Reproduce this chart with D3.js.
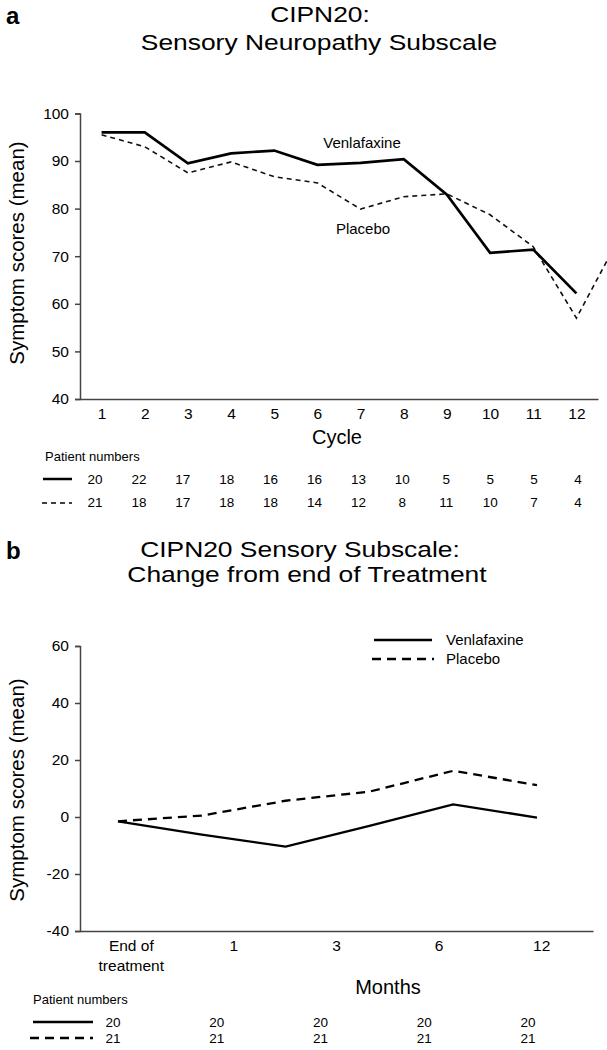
<!DOCTYPE html>
<html><head><meta charset="utf-8">
<script src="https://cdn.jsdelivr.net/npm/d3@7"></script>
<style>
body{margin:0;background:#fff}
svg{display:block}
text{font-family:"Liberation Sans",Arial,Helvetica,sans-serif;fill:#000}
</style>
</head><body>
<svg id="chart" width="607" height="1050"></svg>
<script>
// ---------- Data: panel a ----------
const cycles = [1,2,3,4,5,6,7,8,9,10,11,12];
const venlafaxineA = [96,96,89.5,91.6,92.2,89.2,89.6,90.4,82.9,70.7,71.4,62.2];
// last value lies beyond cycle 12 (line runs off the right edge in the original)
const placeboA = [95.5,93,87.5,89.8,86.7,85.4,79.9,82.5,83.1,78.7,72,57,74];
const patientsVenA = [20,22,17,18,16,16,13,10,5,5,5,4];
const patientsPlaA = [21,18,17,18,18,14,12,8,11,10,7,4];
const yTicksA = [40,50,60,70,80,90,100];

// ---------- Data: panel b ----------
const monthLabels = ["End of treatment","1","3","6","12"];
const measurePoints = [0,1,2,3,4,5];
const venlafaxineB = [-1.5,-6.2,-10.4,-3.1,4.4,-0.2];
const placeboB = [-1.5,0.5,5.7,8.9,16.2,11.2];
const patientsVenB = [20,20,20,20,20];
const patientsPlaB = [21,21,21,21,21];
const yTicksB = [-40,-20,0,20,40,60];

const svg = d3.select("#chart");
const axisColor = "#444";

function styleAxis(g){
  g.selectAll(".domain").attr("stroke",axisColor).attr("stroke-width",1.5);
  g.selectAll(".tick line").attr("stroke",axisColor).attr("stroke-width",1.5);
  g.selectAll(".tick text").attr("font-family","Liberation Sans, Arial, sans-serif").attr("fill","#000");
}
// titles in the original are set in a horizontally widened face
function title(cx, y, str){
  svg.append("text").attr("transform",`translate(${cx},${y}) scale(1.2,1)`)
    .attr("text-anchor","middle").attr("font-size",22).text(str);
}
const plain = d => String(d);

// ================= PANEL A =================
svg.append("text").attr("x",6).attr("y",24).attr("font-size",24).attr("font-weight","bold").text("a");
title(320, 22, "CIPN20:");
title(319, 50, "Sensory Neuropathy Subscale");

const xA = d3.scaleLinear().domain([0.5,12.5]).range([80,598]);
const yA = d3.scaleLinear().domain([40,100]).range([399,113.4]);

const gyA = svg.append("g").attr("transform","translate(80,0)")
  .call(d3.axisLeft(yA).tickValues(yTicksA).tickFormat(plain).tickSize(5).tickPadding(6));
styleAxis(gyA);
gyA.selectAll(".tick text").attr("font-size",15.5);

const gxA = svg.append("g").attr("transform","translate(0,399)")
  .call(d3.axisBottom(xA).tickValues(cycles).tickFormat(plain).tickSize(0).tickPadding(9).tickSizeOuter(0));
styleAxis(gxA);
gxA.selectAll(".tick text").attr("font-size",15.5);

svg.append("text").attr("x",337).attr("y",444).attr("text-anchor","middle").attr("font-size",20).text("Cycle");
svg.append("text").attr("transform","translate(24,253) rotate(-90)").attr("text-anchor","middle").attr("font-size",20.5).text("Symptom scores (mean)");

const lineA = d3.line().x((d,i)=>xA(i+1)).y(d=>yA(d));
svg.append("path").datum(placeboA).attr("d",lineA).attr("fill","none")
  .attr("stroke","#111").attr("stroke-width",1.6).attr("stroke-dasharray","5,4");
svg.append("path").datum(venlafaxineA).attr("d",lineA).attr("fill","none")
  .attr("stroke","#000").attr("stroke-width",2.7).attr("stroke-linejoin","miter");

svg.append("text").attr("x",362).attr("y",148).attr("text-anchor","middle").attr("font-size",15).text("Venlafaxine");
svg.append("text").attr("x",363).attr("y",234).attr("text-anchor","middle").attr("font-size",15).text("Placebo");

// patient numbers table a
const tA = d3.scalePoint().domain(cycles).range([95,578]);
svg.append("text").attr("x",45).attr("y",461).attr("font-size",13).text("Patient numbers");
svg.append("line").attr("x1",43).attr("x2",72).attr("y1",479).attr("y2",479).attr("stroke","#000").attr("stroke-width",2.5);
svg.append("line").attr("x1",42).attr("x2",72).attr("y1",503).attr("y2",503).attr("stroke","#000").attr("stroke-width",1.6).attr("stroke-dasharray","5,4");
svg.append("g").selectAll("text").data(patientsVenA).join("text")
  .attr("x",(d,i)=>tA(cycles[i])).attr("y",484).attr("text-anchor","middle").attr("font-size",13.5).text(d=>d);
svg.append("g").selectAll("text").data(patientsPlaA).join("text")
  .attr("x",(d,i)=>tA(cycles[i])).attr("y",507).attr("text-anchor","middle").attr("font-size",13.5).text(d=>d);

// ================= PANEL B =================
svg.append("text").attr("x",6).attr("y",559).attr("font-size",24).attr("font-weight","bold").text("b");
title(300, 557, "CIPN20 Sensory Subscale:");
title(307, 582, "Change from end of Treatment");

const xBand = d3.scaleBand().domain(monthLabels).range([80,593]);
const xPts = d3.scalePoint().domain(measurePoints).range([118,537]);
const yB = d3.scaleLinear().domain([-40,60]).range([931,646]);

const gyB = svg.append("g").attr("transform","translate(80,0)")
  .call(d3.axisLeft(yB).tickValues(yTicksB).tickFormat(plain).tickSize(5).tickPadding(6));
styleAxis(gyB);
gyB.selectAll(".tick text").attr("font-size",15.5);

const gxB = svg.append("g").attr("transform","translate(0,931)")
  .call(d3.axisBottom(xBand).tickSize(0).tickPadding(9).tickSizeOuter(0));
styleAxis(gxB);
gxB.selectAll(".tick text").attr("font-size",15.5).each(function(d){
  const t = d3.select(this);
  if(d==="End of treatment"){
    t.text(null);
    t.append("tspan").attr("x",0).attr("dy","0.71em").text("End of");
    t.append("tspan").attr("x",0).attr("dy","1.3em").text("treatment");
  }
});

svg.append("text").attr("x",388).attr("y",994).attr("text-anchor","middle").attr("font-size",20).text("Months");
svg.append("text").attr("transform","translate(24,790) rotate(-90)").attr("text-anchor","middle").attr("font-size",20.5).text("Symptom scores (mean)");

const lineB = d3.line().x((d,i)=>xPts(measurePoints[i])).y(d=>yB(d));
svg.append("path").datum(placeboB).attr("d",lineB).attr("fill","none")
  .attr("stroke","#000").attr("stroke-width",2.3).attr("stroke-dasharray","9,6");
svg.append("path").datum(venlafaxineB).attr("d",lineB).attr("fill","none")
  .attr("stroke","#000").attr("stroke-width",2.3);

// legend b
svg.append("line").attr("x1",374).attr("x2",432).attr("y1",640).attr("y2",640).attr("stroke","#000").attr("stroke-width",2.3);
svg.append("text").attr("x",446).attr("y",645).attr("font-size",15).text("Venlafaxine");
svg.append("line").attr("x1",372).attr("x2",434).attr("y1",659).attr("y2",659).attr("stroke","#000").attr("stroke-width",2.3).attr("stroke-dasharray","9,6");
svg.append("text").attr("x",446).attr("y",664).attr("font-size",15).text("Placebo");

// patient numbers table b
const tB = d3.scalePoint().domain(monthLabels).range([113,528]);
svg.append("text").attr("x",33).attr("y",1004).attr("font-size",13).text("Patient numbers");
svg.append("line").attr("x1",33).attr("x2",93).attr("y1",1022).attr("y2",1022).attr("stroke","#000").attr("stroke-width",2.3);
svg.append("line").attr("x1",30).attr("x2",93).attr("y1",1038).attr("y2",1038).attr("stroke","#000").attr("stroke-width",2.3).attr("stroke-dasharray","9,6");
svg.append("g").selectAll("text").data(patientsVenB).join("text")
  .attr("x",(d,i)=>tB(monthLabels[i])).attr("y",1027).attr("text-anchor","middle").attr("font-size",13.5).text(d=>d);
svg.append("g").selectAll("text").data(patientsPlaB).join("text")
  .attr("x",(d,i)=>tB(monthLabels[i])).attr("y",1043).attr("text-anchor","middle").attr("font-size",13.5).text(d=>d);
</script>
</body></html>
